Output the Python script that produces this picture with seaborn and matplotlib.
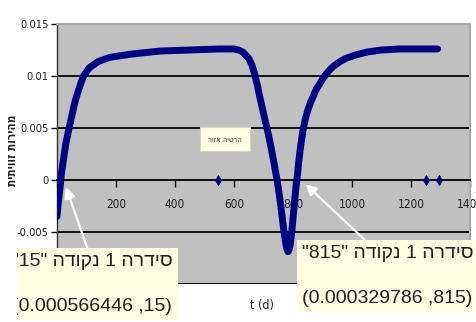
import matplotlib
matplotlib.use("Agg")
import matplotlib.pyplot as plt
from matplotlib.transforms import Bbox
import seaborn as sns
import pandas as pd

# values
t_curve = [0, 5, 10, 15, 22, 30, 38, 45, 52, 60, 67, 75, 82, 90, 100, 110,
           125, 140, 160, 180, 250, 350, 450, 550, 600, 615, 630, 640, 650,
           660, 670, 680, 688, 700, 715, 730, 746, 755, 763, 770, 775, 779,
           783, 787, 791, 796, 800, 805, 810, 815, 820, 827, 834, 842, 850,
           860, 871, 880, 890, 900, 910, 925, 940, 960, 980, 1010, 1050,
           1100, 1160, 1290]
v_curve = [-0.0035, -0.0020, -0.0008, 0.0006, 0.0020, 0.0035, 0.0046, 0.0055,
           0.0064, 0.0074, 0.0081, 0.0088, 0.0094, 0.0100, 0.0104, 0.0108,
           0.0111, 0.0114, 0.0116, 0.0118, 0.0121, 0.0124, 0.0125, 0.0126,
           0.0126, 0.0125, 0.0123, 0.0120, 0.0117, 0.0111, 0.0102, 0.0090,
           0.0079, 0.0064, 0.0046, 0.0025, 0.0000, -0.0017, -0.0035, -0.0051,
           -0.0060, -0.0066, -0.0069, -0.0067, -0.0061, -0.0049, -0.0037,
           -0.0021, -0.0007, 0.0005, 0.0019, 0.0035, 0.0048, 0.0059, 0.0067,
           0.0075, 0.0082, 0.0088, 0.0092, 0.0097, 0.0101, 0.0106, 0.0110,
           0.0114, 0.0117, 0.0120, 0.0123, 0.0125, 0.0126, 0.0126]
t_zero = [545, 1250, 1295]
v_zero = [0.0, 0.0, 0.0]

x_ticks = [0, 200, 400, 600, 800, 1000, 1200, 1400]
x_labels = ['', '200', '400', '600', '800', '1000', '1200', '1400']
y_ticks = [-0.01, -0.005, 0, 0.005, 0.01, 0.015]
y_labels = ['-0.01', '-0.005', '0', '0.005', '0.01', '0.015']

# hebrew strings typed in visual (left-to-right) order
label_15 = '"15" ' + 'הדוקנ' + ' 1 ' + 'הרדיס' + '\n(0.000566446 ,15)'
label_815 = '"815" ' + 'הדוקנ' + ' 1 ' + 'הרדיס' + '\n(0.000329786 ,815)'
zone_label = 'רוזא' + ' ' + 'היטרה'
y_title = 'תיתיווז' + ' ' + 'תוריהמ'
x_title = 't (d)'

df = pd.DataFrame({'t': t_curve, 'v': v_curve})
dz = pd.DataFrame({'t': t_zero, 'v': v_zero})

sns.set_theme(style="white")
plt.rcParams['font.family'] = ['DejaVu Sans']
plt.rcParams['font.stretch'] = 'condensed'

W, H = 476, 322
fig = plt.figure(figsize=(W / 100, H / 100), dpi=100)
fig.patch.set_facecolor('white')
ax = fig.add_axes([57 / W, 38 / H, 413 / W, 260 / H])
ax.set_facecolor('#C0C0C0')

navy = '#000080'
sns.lineplot(data=df, x='t', y='v', ax=ax, color=navy, lw=5,
             sort=False, estimator=None, zorder=3)
sns.scatterplot(data=dz, x='t', y='v', ax=ax, color=navy, marker='d',
                s=28, edgecolor=navy, zorder=3)

ax.set_xlim(0, 1400)
ax.set_ylim(-0.01, 0.015)
ax.set_xticks(x_ticks)
ax.set_xticklabels(x_labels)
ax.set_yticks(y_ticks)
ax.set_yticklabels(y_labels)
ax.set_xlabel('')
ax.set_ylabel('')

ax.yaxis.grid(True, color='#101010', lw=1.4)
ax.xaxis.grid(False)
ax.set_axisbelow(True)

ax.spines['bottom'].set_position(('data', 0))
ax.spines['bottom'].set_color('#101010')
ax.spines['bottom'].set_linewidth(1.4)
ax.spines['left'].set_color('#303030')
ax.spines['left'].set_linewidth(1.0)
ax.spines['top'].set_color('#A8A8A8')
ax.spines['top'].set_linewidth(1.5)
ax.spines['right'].set_color('#A8A8A8')
ax.spines['right'].set_linewidth(1.5)

ax.tick_params(axis='x', direction='out', length=5, width=1, color='#101010',
               labelsize=8.5, labelcolor='#202020', pad=8, bottom=True)
ax.tick_params(axis='y', direction='out', length=4, width=1, color='#101010',
               labelsize=8, labelcolor='#202020', pad=2, left=True)

# axis titles
fig.text(262 / W, 1 - 306 / H, x_title, ha='center', va='center',
         fontsize=9, color='#202020')
fig.text(13 / W, 1 - 150 / H, y_title, ha='center', va='center',
         rotation=90, fontsize=8.5, fontweight='bold', color='#202020')

# small zone label
fig.text(225 / W, 1 - 139 / H, zone_label, ha='center', va='center',
         fontsize=5.5, color='#303030',
         bbox=dict(boxstyle='square,pad=1.0', fc='#FFFFE6', ec='#D8D8C0', lw=0.8))

# callouts with white arrows
callout_font = dict(family=['Liberation Sans', 'DejaVu Sans'], stretch='normal',
                    size=14)
left_ann = ax.annotate(label_15, xy=(15, 0.000566), xycoords='data',
                       xytext=(12, H - 284), textcoords='figure pixels',
                       ha='left', va='center', fontproperties=callout_font,
                       linespacing=3.1, color='#202020',
                       bbox=dict(boxstyle='square,pad=0.25', fc='#FFFFE1', ec='none'),
                       annotation_clip=False, zorder=10,
                       arrowprops=dict(arrowstyle='-|>', color='white', lw=1.6,
                                       mutation_scale=16, shrinkA=0, shrinkB=10,
                                       relpos=(0.48, 1)))
# the left callout is cut at its left side in the original
clip = Bbox.from_extents(17, 0, W, H)
left_ann.set_clip_box(clip)
left_ann.set_clip_on(True)
left_ann.get_bbox_patch().set_clip_box(clip)
left_ann.get_bbox_patch().set_clip_on(True)

ax.annotate(label_815, xy=(815, 0.00033), xycoords='data',
            xytext=(302, H - 276), textcoords='figure pixels',
            ha='left', va='center', fontproperties=callout_font,
            linespacing=3.1, color='#202020',
            bbox=dict(boxstyle='square,pad=0.25', fc='#FFFFE1', ec='none'),
            annotation_clip=False, zorder=10,
            arrowprops=dict(arrowstyle='-|>', color='white', lw=1.6,
                            mutation_scale=16, shrinkA=0, shrinkB=8,
                            relpos=(0.4, 1)))

fig.savefig('out.png', dpi=100, facecolor='white')
